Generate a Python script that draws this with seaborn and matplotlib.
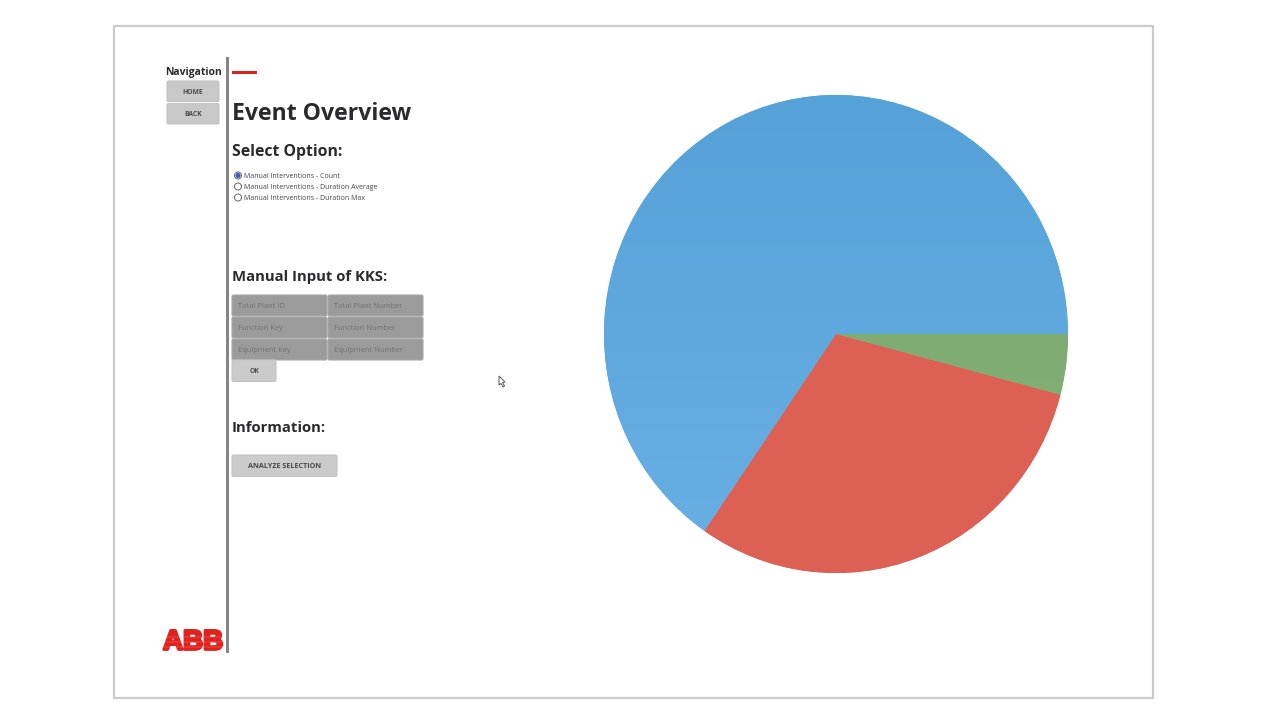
import matplotlib
matplotlib.use("Agg")
import matplotlib.pyplot as plt
import matplotlib.patheffects as pe
from matplotlib.patches import FancyBboxPatch, Rectangle, Circle, Polygon
import numpy as np
import seaborn as sns

# --- data ---
slice_names = ["Green", "Red", "Blue"]
slice_values = [4.1, 30.5, 65.4]
slice_colors = ["#7FAD72", "#DF6155", "#5FA9DF"]
radio_labels = ["Manual Interventions - Count",
                "Manual Interventions - Duration Average",
                "Manual Interventions - Duration Max"]
kks_left = ["Total Plant ID", "Function Key", "Equipment Key"]
kks_right = ["Total Plant Number", "Function Number", "Equipment Number"]
nav_labels = ["HOME", "BACK"]

sns.set_theme(style="white")
plt.rcParams["font.family"] = ["Open Sans", "DejaVu Sans"]

fig = plt.figure(figsize=(12.8, 7.2), dpi=100, facecolor="white")
W, H = 1280, 720

# pie axes: x 604-1068, y 95-573 (slightly non-circular, as in the reference)
pie_ax = fig.add_axes([604 / W, 1 - 573 / H, 464 / W, 478 / H])
wedges, _ = pie_ax.pie(slice_values, colors=slice_colors, startangle=0, counterclock=False,
                       radius=1.0, wedgeprops=dict(linewidth=0))
pie_ax.set_aspect("auto")

# soft vertical shading inside the wedges
shades = [("#7BAA70", "#83AF74"), ("#DF6256", "#DD6054"), ("#55A2D8", "#69AFE4")]
for wedge, (top, bottom) in zip(wedges, shades):
    c0, c1 = np.array(matplotlib.colors.to_rgb(top)), np.array(matplotlib.colors.to_rgb(bottom))
    t = np.linspace(0, 1, 256)[:, None, None]
    img = c0[None, None, :] * (1 - t) + c1[None, None, :] * t
    im = pie_ax.imshow(img, extent=(-1, 1, -1, 1), aspect="auto", zorder=wedge.get_zorder() + 0.5,
                       interpolation="bilinear")
    im.set_clip_path(wedge)
pie_ax.set_xlim(-1, 1)
pie_ax.set_ylim(-1, 1)

# interface overlay in pixel coordinates
ui = fig.add_axes([0, 0, 1, 1], zorder=5)
ui.set_xlim(0, W)
ui.set_ylim(H, 0)
ui.axis("off")
ui.patch.set_alpha(0)

ui.add_patch(Rectangle((113.5, 25.5), 1039.5, 672.5, fill=False, ec="#CBCBCB", lw=1.6))
ui.add_patch(Rectangle((226, 57), 3.2, 596, fc="#858585", ec="none"))
ui.add_patch(Rectangle((232, 70.5), 25, 3, fc="#E2211C", ec="none"))


def box(x, y, w, h, fc, ec="#C4C4C4"):
    ui.add_patch(FancyBboxPatch((x + 1, y + 1), w - 2, h - 2, boxstyle="round,pad=1,rounding_size=1.5",
                                fc=fc, ec=ec, lw=0.8))


DARK = "#2B2B2E"
ui.text(165, 72, "Navigation", fontsize=7.5, fontweight="bold", color=DARK, va="center")
for label, y in zip(nav_labels, [81, 103.5]):
    box(167, y, 52, 20.5, "#C8C8C8")
    ui.text(193, y + 11, label, fontsize=4.9, fontweight="bold", color="#4A4A4A", ha="center", va="center")

ui.text(232, 114, "Event Overview", fontsize=16.6, fontweight="bold", color=DARK, va="center")
ui.text(232, 152, "Select Option:", fontsize=11.3, fontweight="bold", color=DARK, va="center")
ui.text(232, 277, "Manual Input of KKS:", fontsize=10.7, fontweight="bold", color=DARK, va="center")
ui.text(232, 428, "Information:", fontsize=10.7, fontweight="bold", color=DARK, va="center")

for i, (label, y) in enumerate(zip(radio_labels, [176, 187, 198])):
    ui.text(243.5, y + 0.5, label, fontsize=5.05, color="#44444C", va="center")
    ui.add_patch(Circle((238, y - 0.5), 3.5, fc="white", ec="#666666", lw=0.7))
    if i == 0:
        ui.add_patch(Circle((238, y - 0.5), 2.6, fc="#2F5FC4", ec="none"))

for label_l, label_r, y in zip(kks_left, kks_right, [295, 317, 339]):
    box(232, y, 95, 21, "#9C9B9B", "#A8A8A8")
    box(328, y, 95, 21, "#9C9B9B", "#A8A8A8")
    ui.text(238, y + 11, label_l, fontsize=5.4, color="#727272", va="center")
    ui.text(334, y + 11, label_r, fontsize=5.4, color="#727272", va="center")

box(232, 360, 44, 21.5, "#CBCBCB")
ui.text(254, 371.5, "OK", fontsize=4.9, fontweight="bold", color="#4A4A4A", ha="center", va="center")
box(232, 455, 105, 21.5, "#CBCBCB")
ui.text(284.5, 467, "ANALYZE SELECTION", fontsize=5.2, fontweight="bold", color="#4A4A4A", ha="center", va="center")

# cursor
ui.add_patch(Polygon([(499, 376), (499, 385), (501, 383.5), (503, 387), (504.5, 386), (502.5, 382.5), (505, 382)],
                     closed=True, fc="white", ec="#555555", lw=0.7))

# logo
ui.text(193, 642.5, "ABB", family="Liberation Sans", fontsize=20, fontweight="bold", color="#E2211C",
        ha="center", va="center", path_effects=[pe.withStroke(linewidth=2.0, foreground="#E2211C")], zorder=6)
for y in [637, 642, 647]:
    ui.plot([163, 223], [y, y], color="white", lw=0.3, alpha=0.45, zorder=7)

fig.savefig("out.png", dpi=100, facecolor="white")
